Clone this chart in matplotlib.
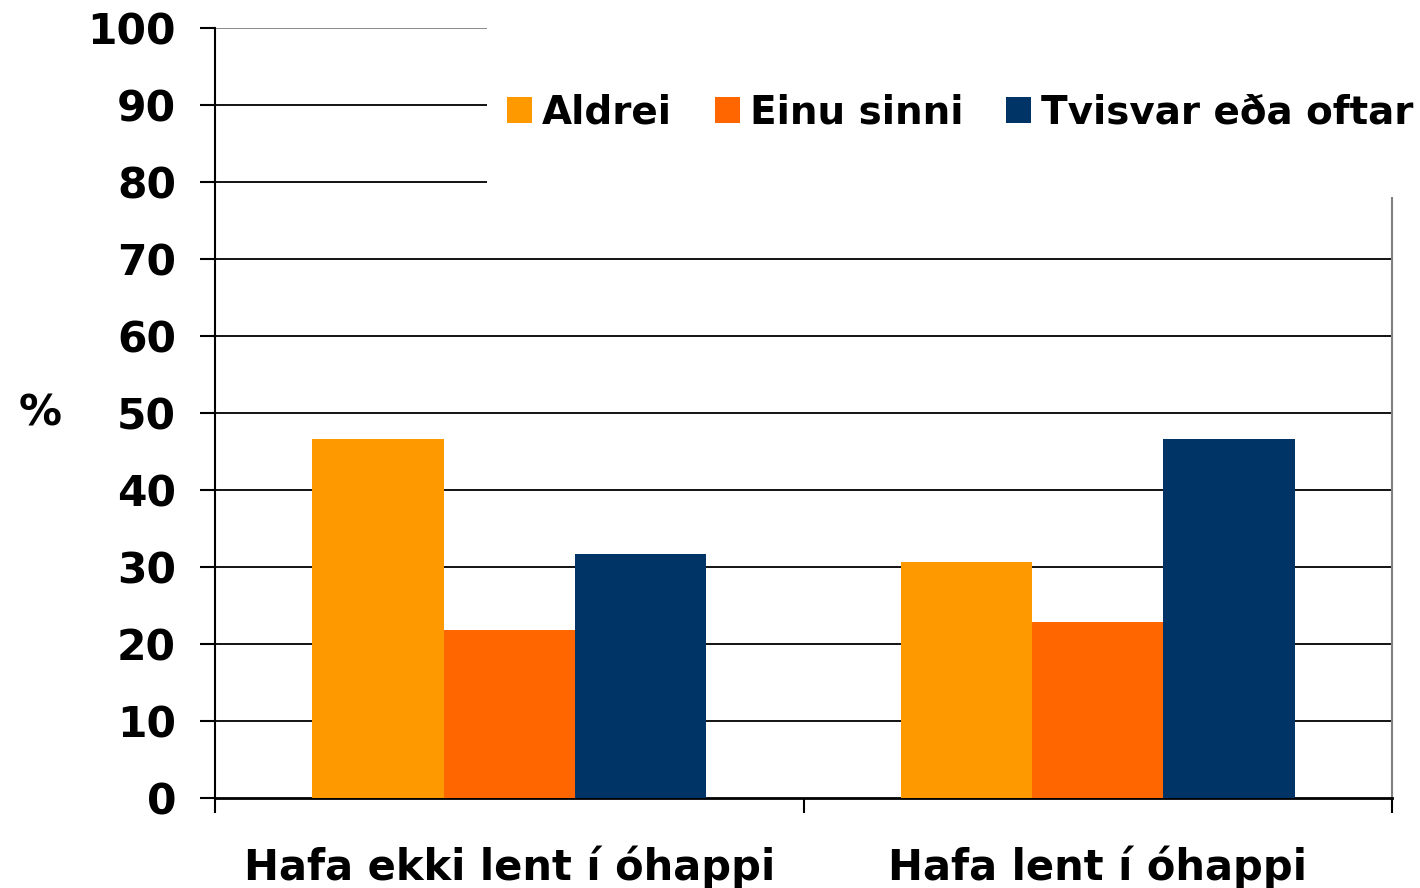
import matplotlib
matplotlib.use("Agg")
import matplotlib.pyplot as plt
from matplotlib.patches import Rectangle, Patch
import numpy as np

categories = ["Hafa ekki lent í óhappi", "Hafa lent í óhappi"]
series_names = ["Aldrei", "Einu sinni", "Tvisvar eða oftar"]
aldrei = [46.6, 30.6]
einu_sinni = [21.8, 22.9]
tvisvar = [31.7, 46.6]
colors = ["#FF9900", "#FF6600", "#003366"]
yticks = [0, 10, 20, 30, 40, 50, 60, 70, 80, 90, 100]

W, H = 1420, 888
fig = plt.figure(figsize=(W / 100, H / 100), dpi=100)
plt.rcParams['font.family'] = ['DejaVu Sans']
ax = fig.add_axes([215 / W, 1 - 798 / H, (1392 - 215) / W, (798 - 28) / H])

x = np.arange(len(categories))
bw = 0.223
for i, (vals, c) in enumerate(zip([aldrei, einu_sinni, tvisvar], colors)):
    ax.bar(x + (i - 1) * bw, vals, width=bw, color=c, zorder=3)

ax.set_xlim(-0.5, 1.5)
ax.set_ylim(0, 100)
ax.set_yticks(yticks)
ax.set_yticklabels([str(v) for v in yticks], fontsize=30.5, fontweight='bold')
for v in yticks[1:]:
    ax.axhline(v, color='#808080' if v == 100 else 'black', lw=1.3, zorder=1)

ax.set_xticks(x)
ax.set_xticklabels(categories, fontsize=30, fontweight='bold')
ax.tick_params(axis='x', which='major', length=0, pad=34)
ax.set_xticks([-0.5, 0.5, 1.5], minor=True)
ax.tick_params(axis='x', which='minor', length=11, width=1.5, direction='out')
ax.tick_params(axis='y', length=11, width=1.5, direction='out', pad=17)

for s in ['top', 'right']:
    ax.spines[s].set_visible(False)
ax.spines['left'].set_linewidth(1.5)
ax.spines['bottom'].set_linewidth(2)
ax.plot([1.5, 1.5], [0, 100], color='#808080', lw=1.5, zorder=2, clip_on=False)

# legend background box covering the top-right region
fig.patches.append(Rectangle((487 / W, 1 - 197 / H), 1 - 487 / W, 197 / H,
                             transform=fig.transFigure, facecolor='white',
                             edgecolor='none', zorder=5))

handles = [Patch(facecolor=c, edgecolor='none') for c in colors]
leg = fig.legend(handles, series_names, loc='center left',
                 bbox_to_anchor=(507 / W, 1 - 113 / H), ncol=3, frameon=False,
                 prop={'size': 28, 'weight': 'bold'}, handlelength=0.65,
                 handleheight=0.65, handletextpad=0.25, columnspacing=1.1,
                 borderpad=0, borderaxespad=0)
leg.set_zorder(6)

fig.text(40 / W, 1 - 413 / H, "%", fontsize=31, fontweight='bold',
         ha='center', va='center')

fig.savefig("out.png", dpi=100)
